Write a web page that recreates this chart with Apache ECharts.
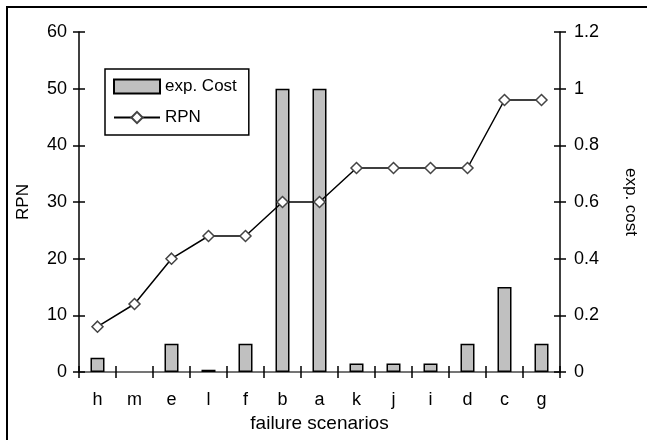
<!DOCTYPE html>
<html>
<head>
<meta charset="utf-8">
<script src="https://cdn.jsdelivr.net/npm/echarts@6/dist/echarts.min.js"></script>
<style>
html,body{margin:0;padding:0;background:#fff;}
#chart{width:647px;height:440px;}
</style>
</head>
<body>
<div id="chart"></div>
<script>
var categories = ['h','m','e','l','f','b','a','k','j','i','d','c','g'];
var rpnValues = [8,12,20,24,24,30,30,36,36,36,36,48,48];
var expCostValues = [0.05,0,0.1,0.008,0.1,1,1,0.03,0.03,0.03,0.1,0.3,0.1];
var rpnAxis = {min:0, max:60, interval:10};
var costAxis = {min:0, max:1.2, interval:0.2};

var FONT = '"Liberation Sans", Arial, sans-serif';
var chart = echarts.init(document.getElementById('chart'), null, {renderer:'canvas'});

function tickOnlyY(pos, range){
  return {
    type:'value', position:pos, min:range.min, max:range.max, interval:range.interval,
    axisLine:{show:false}, axisLabel:{show:false}, splitLine:{show:false},
    axisTick:{show:true, inside:true, length:6, lineStyle:{color:'#000', width:1.5}}
  };
}

var barData = expCostValues.map(function(v){
  return v === 0 ? {value:v, itemStyle:{borderWidth:0}} : v;
});

chart.setOption({
  backgroundColor:'#fff',
  animation:false,
  textStyle:{fontFamily:FONT},
  graphic:[{
    type:'rect', shape:{x:7, y:7, width:700, height:500},
    style:{fill:'none', stroke:'#000', lineWidth:2}, silent:true, z:-1
  }],
  grid:{left:79, right:84, top:32, bottom:68, containLabel:false},
  legend:{
    left:105, top:69, orient:'vertical',
    padding:[9,12,9,8], itemGap:14, itemWidth:46, itemHeight:14,
    borderColor:'#000', borderWidth:1.5, backgroundColor:'#fff',
    textStyle:{fontFamily:FONT, fontSize:17, color:'#000'},
    data:[{name:'exp. Cost', icon:'rect'}, {name:'RPN'}]
  },
  xAxis:[{
    type:'category', data:categories, position:'bottom',
    name:'failure scenarios', nameLocation:'middle', nameGap:40,
    nameTextStyle:{fontFamily:FONT, fontSize:19, color:'#000'},
    axisLine:{lineStyle:{color:'#000', width:1.5}},
    axisTick:{show:true, length:6, lineStyle:{color:'#000', width:1.5}},
    axisLabel:{fontFamily:FONT, fontSize:18, color:'#000', margin:19},
    splitLine:{show:false}
  },{
    type:'category', data:categories, position:'bottom',
    axisLine:{show:false}, axisLabel:{show:false},
    axisTick:{show:true, inside:true, length:6, lineStyle:{color:'#000', width:1.5}}
  },{
    type:'category', data:categories, position:'top',
    axisLine:{show:true, lineStyle:{color:'#888', width:1.5}},
    axisTick:{show:false}, axisLabel:{show:false}
  }],
  yAxis:[{
    type:'value', position:'left', min:rpnAxis.min, max:rpnAxis.max, interval:rpnAxis.interval,
    name:'RPN', nameLocation:'middle', nameGap:47, nameRotate:90,
    nameTextStyle:{fontFamily:FONT, fontSize:17, color:'#000'},
    axisLine:{show:true, lineStyle:{color:'#000', width:1.5}},
    axisTick:{show:true, length:6, lineStyle:{color:'#000', width:1.5}},
    axisLabel:{fontFamily:FONT, fontSize:18, color:'#000', margin:12},
    splitLine:{show:false}
  },{
    type:'value', position:'right', min:costAxis.min, max:costAxis.max, interval:costAxis.interval,
    name:'exp. cost', nameLocation:'middle', nameGap:62, nameRotate:-90,
    nameTextStyle:{fontFamily:FONT, fontSize:17, color:'#000'},
    axisLine:{show:true, lineStyle:{color:'#000', width:1.5}},
    axisTick:{show:true, length:6, lineStyle:{color:'#000', width:1.5}},
    axisLabel:{fontFamily:FONT, fontSize:18, color:'#000', margin:14},
    splitLine:{show:false}
  },
  tickOnlyY('left', rpnAxis),
  tickOnlyY('right', costAxis)
  ],
  series:[{
    name:'exp. Cost', type:'bar', xAxisIndex:0, yAxisIndex:1,
    data:barData, barWidth:14, z:2,
    itemStyle:{color:'#c0c0c0', borderColor:'#000', borderWidth:1.5}
  },{
    name:'RPN', type:'line', xAxisIndex:0, yAxisIndex:0,
    data:rpnValues, z:3,
    symbol:'diamond', symbolSize:11,
    lineStyle:{color:'#000', width:1.5},
    itemStyle:{color:'#fff', borderColor:'#444', borderWidth:1.5}
  }]
});
</script>
</body>
</html>
